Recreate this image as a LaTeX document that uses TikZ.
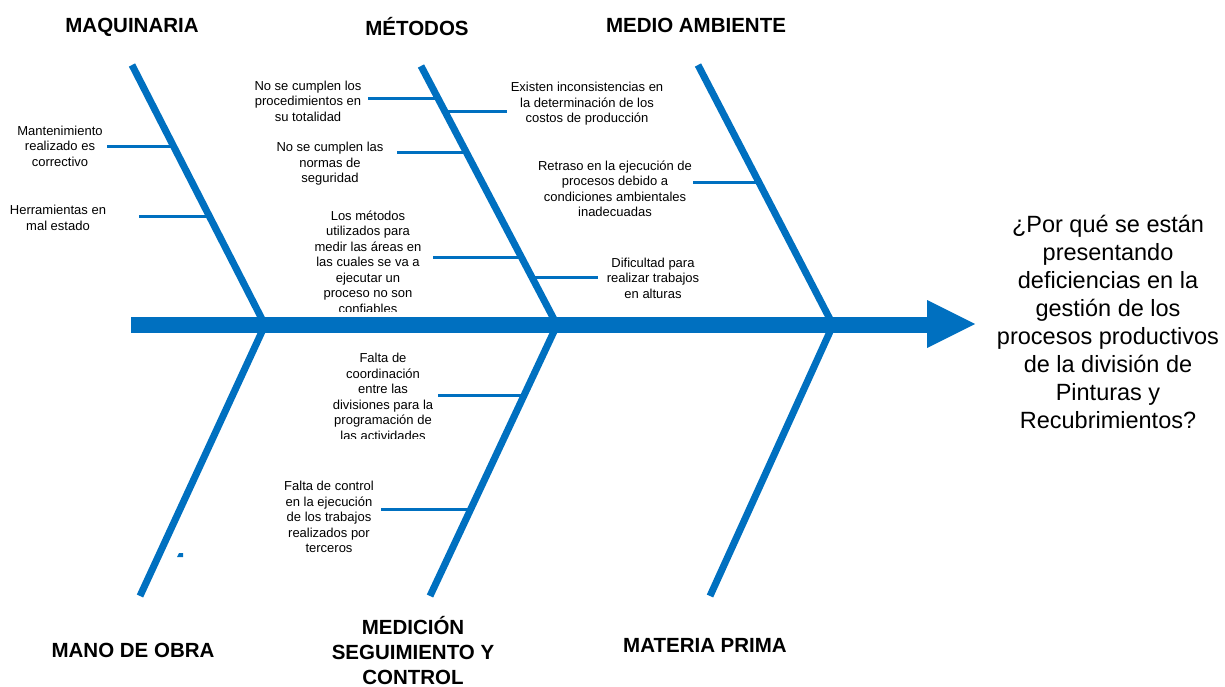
\documentclass[tikz,border=0pt]{standalone}
\usepackage{fontspec}
\setmainfont{Liberation Sans}
\usepackage{tikz}
\usepackage{tikz-network}
\definecolor{fishblue}{RGB}{0,112,192}
\tikzset{
  cause/.style={align=center,inner sep=0pt,font=\fontsize{13}{15.5}\selectfont},
  branch/.style={align=center,inner sep=0pt,font=\bfseries\fontsize{20.5}{25}\selectfont},
  problem/.style={align=center,inner sep=0pt,font=\fontsize{23.5}{28}\selectfont}
}

\begin{document}
\begin{tikzpicture}[x=1pt,y=-1pt]
        \useasboundingbox (0,0) rectangle (1225,687);
        \coordinate (tail) at (131,325);
        \coordinate (head) at (928,325);
        \coordinate (tip) at (975,324);
        \coordinate (barb1) at (927,300);
        \coordinate (barb2) at (927,348);
        \coordinate (q0) at (132,65);
        \coordinate (q1) at (265,325);
        \coordinate (q2) at (140,596);
        \coordinate (d0) at (421,66);
        \coordinate (d1) at (557,325);
        \coordinate (d2) at (430,596);
        \coordinate (a0) at (698,65);
        \coordinate (a1) at (833,325);
        \coordinate (a2) at (710,596);
        \coordinate (r1a) at (107,147);  \coordinate (r1b) at (174,147);
        \coordinate (r2a) at (139,216);  \coordinate (r2b) at (209,216);
        \coordinate (r3a) at (368,99);   \coordinate (r3b) at (438,99);
        \coordinate (r4a) at (445,112);  \coordinate (r4b) at (507,112);
        \coordinate (r5a) at (397,153);  \coordinate (r5b) at (467,153);
        \coordinate (r6a) at (433,257);  \coordinate (r6b) at (521,257);
        \coordinate (r7a) at (532,277);  \coordinate (r7b) at (598,277);
        \coordinate (r8a) at (693,183);  \coordinate (r8b) at (759,183);
        \coordinate (r9a) at (438,395);  \coordinate (r9b) at (524,395);
        \coordinate (r10a) at (381,509); \coordinate (r10b) at (471,509);
        \Edge[lw=7,color=fishblue](q0)(q1)
        \Edge[lw=7,color=fishblue](q1)(q2)
        \Edge[lw=7,color=fishblue](d0)(d1)
        \Edge[lw=7,color=fishblue](d1)(d2)
        \Edge[lw=7,color=fishblue](a0)(a1)
        \Edge[lw=7,color=fishblue](a1)(a2)
        \Edge[lw=3,color=fishblue](r1a)(r1b)
        \Edge[lw=3,color=fishblue](r2a)(r2b)
        \Edge[lw=3,color=fishblue](r3a)(r3b)
        \Edge[lw=3,color=fishblue](r4a)(r4b)
        \Edge[lw=3,color=fishblue](r5a)(r5b)
        \Edge[lw=3,color=fishblue](r6a)(r6b)
        \Edge[lw=3,color=fishblue](r7a)(r7b)
        \Edge[lw=3,color=fishblue](r8a)(r8b)
        \Edge[lw=3,color=fishblue](r9a)(r9b)
        \Edge[lw=3,color=fishblue](r10a)(r10b)
        \Edge[lw=16,color=fishblue](tail)(head)
        \fill[fishblue] (barb1) -- (tip) -- (barb2) -- cycle;
        \fill[fishblue] (177,557) -- (179,553) -- (183,553) -- (183,557) -- cycle;
        \node[branch] (maquinaria) at (132,27) {MAQUINARIA};
        \node[branch] (metodos) at (417,27) {MÉTODOS};
        \node[branch] (medio) at (696,25) {MEDIO AMBIENTE};
        \node[branch] (mano) at (133,650) {MANO DE OBRA};
        \node[branch] (medicion) at (413,651) {MEDICIÓN\\SEGUIMIENTO Y\\CONTROL};
        \node[branch] (materia) at (705,645) {MATERIA PRIMA};
        \node[cause] (mantenimiento) at (60,146) {Mantenimiento\\realizado es\\correctivo};
        \node[cause] (herramientas) at (58,218) {Herramientas en\\mal estado};
        \node[cause] (procedimientos) at (308,101) {No se cumplen los\\procedimientos en\\su totalidad};
        \node[cause] (costos) at (587,104) {Existen inconsistencias en\\la determinación de los\\costos de producción};
        \node[cause] (normas) at (330,164) {No se cumplen las\\normas de\\seguridad};
        \begin{scope}
          \clip (280,200) rectangle (460,311);
          \node[cause] (medir) at (368,262) {Los métodos\\utilizados para\\medir las áreas en\\las cuales se va a\\ejecutar un\\proceso no son\\confiables};
        \end{scope}
        \node[cause] (retraso) at (615,189) {Retraso en la ejecución de\\procesos debido a\\condiciones ambientales\\inadecuadas};
        \node[cause] (alturas) at (653,278) {Dificultad para\\realizar trabajos\\en alturas};
        \begin{scope}
          \clip (300,340) rectangle (470,438);
          \node[cause] (coordinacion) at (383,397) {Falta de\\coordinación\\entre las\\divisiones para la\\programación de\\las actividades};
        \end{scope}
        \node[cause] (control) at (329,517) {Falta de control\\en la ejecución\\de los trabajos\\realizados por\\terceros};
        \node[problem] (pregunta) at (1108,322) {¿Por qué se están\\presentando\\deficiencias en la\\gestión de los\\procesos productivos\\de la división de\\Pinturas y\\Recubrimientos?};
    \end{tikzpicture}
\end{document}
